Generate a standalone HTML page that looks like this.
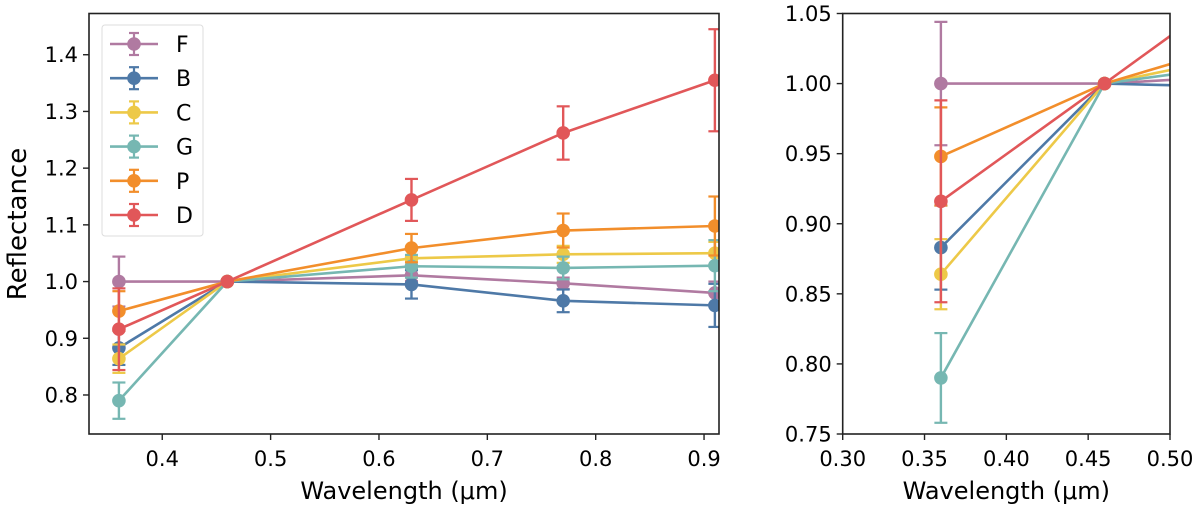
<!DOCTYPE html>
<html><head><meta charset="utf-8"><style>
body{margin:0;background:#fff;}
svg text{font-family:"DejaVu Sans","Liberation Sans",sans-serif;fill:#000;}
</style></head><body>
<svg id="fig" width="1200" height="510" xmlns="http://www.w3.org/2000/svg"></svg>
<script>
const seriesNames = ["F","B","C","G","P","D"];
const seriesColors = ["#b07aa1","#4e79a7","#edc948","#76b7b2","#f28e2b","#e15759"];
const wavelengths = [0.36,0.46,0.63,0.77,0.91];
const valF = [1.000,1.000,1.011,0.997,0.980];
const valB = [0.883,1.000,0.995,0.966,0.958];
const valC = [0.864,1.000,1.041,1.048,1.050];
const valG = [0.790,1.000,1.027,1.024,1.028];
const valP = [0.948,1.000,1.059,1.090,1.098];
const valD = [0.916,1.000,1.144,1.262,1.355];
const errF = [0.044,0,0.010,0.010,0.020];
const errB = [0.030,0,0.025,0.020,0.038];
const errC = [0.025,0,0.015,0.015,0.020];
const errG = [0.032,0,0.020,0.020,0.045];
const errP = [0.035,0,0.025,0.030,0.052];
const errD = [0.072,0,0.037,0.047,0.090];
const leftXTicks = [0.4,0.5,0.6,0.7,0.8,0.9];
const leftYTicks = [0.8,0.9,1.0,1.1,1.2,1.3,1.4];
const rightXTicks = [0.30,0.35,0.40,0.45,0.50];
const rightYTicks = [0.75,0.80,0.85,0.90,0.95,1.00,1.05];

const values=[valF,valB,valC,valG,valP,valD];
const errs=[errF,errB,errC,errG,errP,errD];
const svg=document.getElementById('fig');
const NS='http://www.w3.org/2000/svg';
function mk(tag,attrs,parent){const e=document.createElementNS(NS,tag);for(const k in attrs)e.setAttribute(k,attrs[k]);(parent||svg).appendChild(e);return e;}

function panel(id,box,xd,yd,xt,yt,xfmt,yfmt,legend){
  const sx=v=>box.l+(v-xd[0])/(xd[1]-xd[0])*(box.r-box.l);
  const sy=v=>box.b-(v-yd[0])/(yd[1]-yd[0])*(box.b-box.t);
  const g=mk('g',{});
  
  
  const cp=mk('clipPath',{id:id+'clip'},g);
  mk('rect',{x:box.l,y:box.t,width:box.r-box.l,height:box.b-box.t},cp);
  const plot=mk('g',{'clip-path':'url(#'+id+'clip)'},g);
  values.forEach((vals,si)=>{
    const sg=mk('g',{},plot);
    
    
    const c=seriesColors[si];
    mk('polyline',{points:vals.map((v,i)=>sx(wavelengths[i])+','+sy(v)).join(' '),fill:'none',stroke:c,'stroke-width':2.6},sg);
    vals.forEach((v,i)=>{
      const e=errs[si][i];const x=sx(wavelengths[i]);
      if(e>0){
        mk('line',{x1:x,x2:x,y1:sy(v-e),y2:sy(v+e),stroke:c,'stroke-width':2.4},sg);
        mk('line',{x1:x-6.5,x2:x+6.5,y1:sy(v-e),y2:sy(v-e),stroke:c,'stroke-width':2.2},sg);
        mk('line',{x1:x-6.5,x2:x+6.5,y1:sy(v+e),y2:sy(v+e),stroke:c,'stroke-width':2.2},sg);
      }
      const p=mk('circle',{cx:x,cy:sy(v),r:6.8,fill:c},sg);
      
      
    });
  });
  const fr=mk('rect',{x:box.l,y:box.t,width:box.r-box.l,height:box.b-box.t,fill:'none',stroke:'#222','stroke-width':1.6},g);
  
  
  xt.forEach(t=>{const x=sx(t);
    mk('line',{x1:x,x2:x,y1:box.b,y2:box.b+6,stroke:'#222','stroke-width':1.4},g);
    const tx=mk('text',{x:x,y:box.b+32,'font-size':21,'text-anchor':'middle'},g);tx.textContent=xfmt(t);
    
    
  });
  yt.forEach(t=>{const y=sy(t);
    mk('line',{x1:box.l-6,x2:box.l,y1:y,y2:y,stroke:'#222','stroke-width':1.4},g);
    const tx=mk('text',{x:box.l-11,y:y+7.5,'font-size':21,'text-anchor':'end'},g);tx.textContent=yfmt(t);
    
    
  });
  const xl=mk('text',{x:(box.l+box.r)/2,y:box.b+65,'font-size':24,'text-anchor':'middle'},g);
  xl.textContent='Wavelength (μm)';
  
  
  if(legend){
    const lg=mk('g',{},g);
    
    
    mk('rect',{x:102,y:25,width:101,height:211,rx:3,fill:'#fff',stroke:'#ddd','stroke-width':1},lg);
    seriesNames.forEach((n,i)=>{
      const y=44+i*34.2;const c=seriesColors[i];
      const en=mk('g',{},lg);
      
      
      mk('line',{x1:110,x2:158,y1:y,y2:y,stroke:c,'stroke-width':2.6},en);
      mk('line',{x1:134,x2:134,y1:y-11,y2:y+11,stroke:c,'stroke-width':2.2},en);
      mk('line',{x1:129,x2:139,y1:y-11,y2:y-11,stroke:c,'stroke-width':2.2},en);
      mk('line',{x1:129,x2:139,y1:y+11,y2:y+11,stroke:c,'stroke-width':2.2},en);
      mk('circle',{cx:134,cy:y,r:6.8,fill:c},en);
      const t=mk('text',{x:176,y:y+8,'font-size':22},en);t.textContent=n;
    });
  }
}
panel('left',{l:89,r:719,t:13.5,b:434},[0.3324,0.9138],[0.7312,1.4727],leftXTicks,leftYTicks,v=>v.toFixed(1),v=>v.toFixed(1),true);
panel('right',{l:842.7,r:1170,t:13.5,b:434},[0.30,0.50],[0.75,1.05],rightXTicks,rightYTicks,v=>v.toFixed(2),v=>v.toFixed(2),false);
const yl=mk('text',{x:0,y:0,'font-size':26,'text-anchor':'middle',transform:'translate(26,224) rotate(-90)'});
yl.textContent='Reflectance';


</script>
</body></html>
